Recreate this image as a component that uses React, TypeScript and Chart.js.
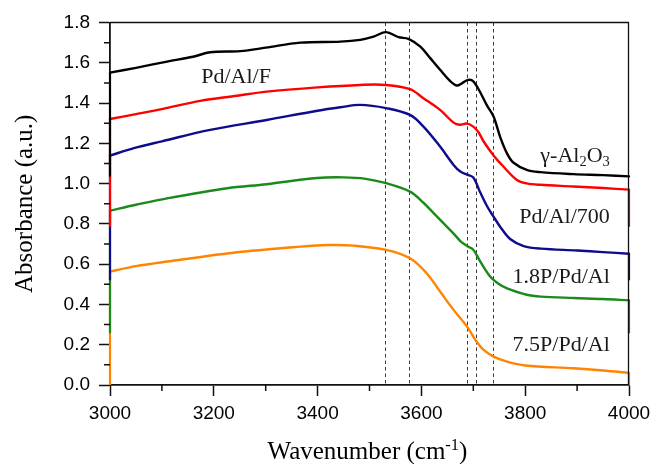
import React, { useEffect, useRef } from 'react';
import { Chart, registerables } from 'chart.js';

Chart.register(...registerables);

// ---- data ----
const blackX = [3000, 3050, 3110, 3160, 3193, 3251, 3300, 3367, 3444, 3482, 3508, 3532, 3556, 3575, 3598, 3617, 3636, 3655, 3668, 3678, 3690, 3700, 3713, 3726, 3739, 3752, 3765, 3777, 3803, 3829, 3893, 3950, 4000];
const blackY = [1.551, 1.575, 1.606, 1.63, 1.652, 1.658, 1.675, 1.7, 1.705, 1.714, 1.73, 1.752, 1.727, 1.719, 1.68, 1.623, 1.565, 1.51, 1.487, 1.498, 1.515, 1.508, 1.455, 1.39, 1.333, 1.23, 1.15, 1.105, 1.068, 1.057, 1.047, 1.042, 1.036];

const redX = [3000, 3050, 3100, 3174, 3240, 3302, 3400, 3482, 3532, 3578, 3604, 3636, 3662, 3674, 3688, 3700, 3710, 3720, 3739, 3758, 3784, 3803, 3829, 3893, 3950, 4000];
const redY = [1.321, 1.345, 1.37, 1.411, 1.435, 1.457, 1.478, 1.49, 1.49, 1.469, 1.424, 1.366, 1.303, 1.292, 1.298, 1.283, 1.255, 1.209, 1.14, 1.085, 1.018, 1.001, 0.994, 0.986, 0.978, 0.97];

const blueX = [3000, 3046, 3100, 3193, 3302, 3400, 3444, 3482, 3532, 3578, 3604, 3636, 3662, 3675, 3688, 3700, 3713, 3726, 3739, 3752, 3771, 3797, 3830, 3900, 3950, 4000];
const blueY = [1.139, 1.176, 1.21, 1.267, 1.316, 1.362, 1.379, 1.391, 1.375, 1.341, 1.283, 1.184, 1.093, 1.06, 1.045, 1.03, 0.958, 0.89, 0.836, 0.785, 0.725, 0.69, 0.677, 0.668, 0.66, 0.652];

const greenX = [3000, 3050, 3110, 3226, 3302, 3399, 3450, 3490, 3532, 3578, 3604, 3623, 3640, 3662, 3675, 3688, 3700, 3713, 3732, 3750, 3765, 3803, 3830, 3893, 3950, 4000];
const greenY = [0.866, 0.895, 0.927, 0.977, 0.997, 1.028, 1.031, 1.025, 1.002, 0.96, 0.905, 0.855, 0.81, 0.752, 0.715, 0.69, 0.672, 0.615, 0.54, 0.5, 0.48, 0.448, 0.439, 0.432, 0.427, 0.42];

const orangeX = [3000, 3050, 3110, 3238, 3367, 3420, 3470, 3532, 3578, 3610, 3636, 3662, 3688, 3704, 3720, 3739, 3765, 3800, 3893, 3950, 4000];
const orangeY = [0.563, 0.59, 0.613, 0.657, 0.687, 0.695, 0.692, 0.671, 0.629, 0.555, 0.464, 0.373, 0.29, 0.224, 0.174, 0.141, 0.116, 0.097, 0.083, 0.072, 0.06];

// baseline each trace drops to at both ends
const baselines = [1.035, 0.786, 0.52, 0.257, 0];
const seriesColors = ['#000000', '#ff0000', '#0c0c8c', '#1a8a1a', '#ff8400'];

const dashedLines = [3530, 3577, 3687, 3705, 3738];

const xMinorTicks = [3100, 3300, 3500, 3700, 3900];
const yMinorTicks = [0.1, 0.3, 0.5, 0.7, 0.9, 1.1, 1.3, 1.5, 1.7];

type Seg = { t: string; s?: 'sub' | 'sup' };

const labelTexts: Seg[][] = [
  [{ t: 'Pd/Al/F' }],
  [{ t: 'γ-Al' }, { t: '2', s: 'sub' }, { t: 'O' }, { t: '3', s: 'sub' }],
  [{ t: 'Pd/Al/700' }],
  [{ t: '1.8P/Pd/Al' }],
  [{ t: '7.5P/Pd/Al' }],
];
const labelX = [3243, 3963, 3963, 3963, 3963];
const labelY = [1.499, 1.109, 0.803, 0.505, 0.17];
const labelAlign = ['center', 'right', 'right', 'right', 'right'];

const xTitle: Seg[] = [{ t: 'Wavenumber (cm' }, { t: '-1', s: 'sup' }, { t: ')' }];
const yTitle: Seg[] = [{ t: 'Absorbance (a.u.)' }];

const SERIF = "'Liberation Serif', 'Times New Roman', serif";
const SANS = "'Liberation Sans', Arial, sans-serif";
const AXIS = '#101010';

function drawRich(ctx: CanvasRenderingContext2D, segs: Seg[], x: number, y: number, size: number, align: string) {
  let w = 0;
  for (const s of segs) {
    ctx.font = `${s.s ? size * 0.66 : size}px ${SERIF}`;
    w += ctx.measureText(s.t).width;
  }
  let cx = align === 'right' ? x - w : align === 'center' ? x - w / 2 : x;
  ctx.textAlign = 'left';
  ctx.textBaseline = 'alphabetic';
  for (const s of segs) {
    const fs = s.s ? size * 0.66 : size;
    ctx.font = `${fs}px ${SERIF}`;
    const dy = s.s === 'sub' ? size * 0.22 : s.s === 'sup' ? -size * 0.36 : 0;
    ctx.fillText(s.t, cx, y + dy);
    cx += ctx.measureText(s.t).width;
  }
}

const decorPlugin = {
  id: 'decor',
  beforeDatasetsDraw(chart: any) {
    const { ctx, chartArea } = chart;
    const xs = chart.scales.x;
    ctx.save();
    ctx.strokeStyle = '#3a3a3a';
    ctx.lineWidth = 1;
    ctx.setLineDash([3.5, 3]);
    for (const v of dashedLines) {
      const px = Math.round(xs.getPixelForValue(v)) + 0.5;
      ctx.beginPath();
      ctx.moveTo(px, chartArea.top);
      ctx.lineTo(px, chartArea.bottom);
      ctx.stroke();
    }
    ctx.restore();
  },
  afterDraw(chart: any) {
    const ctx: CanvasRenderingContext2D = chart.ctx;
    const { left, right, top, bottom } = chart.chartArea;
    const xs = chart.scales.x;
    const ys = chart.scales.y;
    ctx.save();
    ctx.setLineDash([]);
    ctx.strokeStyle = AXIS;
    // top and right frame
    ctx.lineWidth = 1.3;
    ctx.beginPath();
    ctx.moveTo(left, top);
    ctx.lineTo(right - 0.5, top);
    ctx.lineTo(right - 0.5, bottom);
    ctx.stroke();
    // minor ticks
    ctx.lineWidth = 1.5;
    ctx.beginPath();
    yMinorTicks.forEach((v) => {
      const py = ys.getPixelForValue(v);
      ctx.moveTo(left - 6, py);
      ctx.lineTo(left, py);
    });
    xMinorTicks.forEach((v) => {
      const px = xs.getPixelForValue(v);
      ctx.moveTo(px, bottom);
      ctx.lineTo(px, bottom + 6);
    });
    ctx.stroke();
    // labels
    ctx.fillStyle = '#1a1a1a';
    labelTexts.forEach((segs, i) => {
      drawRich(ctx, segs, xs.getPixelForValue(labelX[i]), ys.getPixelForValue(labelY[i]), 22, labelAlign[i]);
    });
    ctx.fillStyle = '#000';
    drawRich(ctx, xTitle, (left + right) / 2 - 2, bottom + 74, 25, 'center');
    ctx.translate(32, (top + bottom) / 2);
    ctx.rotate(-Math.PI / 2);
    drawRich(ctx, yTitle, 0, 0, 25, 'center');
    ctx.restore();
  },
};

export default function App() {
  const ref = useRef<HTMLCanvasElement>(null);
  useEffect(() => {
    const seriesX = [blackX, redX, blueX, greenX, orangeX];
    const seriesY = [blackY, redY, blueY, greenY, orangeY];
    const datasets: any[] = [];
    seriesX.forEach((xs, i) => {
      const yv = seriesY[i];
      datasets.push({
        data: xs.map((x, j) => ({ x, y: yv[j] })),
        borderColor: seriesColors[i],
        borderWidth: 2.4,
        pointRadius: 0,
        tension: 0.35,
        fill: false,
        order: i,
        clip: 8,
        borderJoinStyle: 'round',
        borderCapStyle: 'round',
      });
      const n = xs.length - 1;
      datasets.push({
        data: [
          { x: xs[0], y: baselines[i] },
          { x: xs[0], y: yv[0] },
          { x: xs[n], y: null },
          { x: xs[n], y: yv[n] },
          { x: xs[n], y: baselines[i] },
        ],
        borderColor: seriesColors[i],
        borderWidth: 2.2,
        pointRadius: 0,
        tension: 0,
        fill: false,
        spanGaps: false,
        order: i,
        clip: 8,
      });
    });
    const gridOpts = {
      display: true,
      drawOnChartArea: false,
      drawTicks: true,
      tickLength: 11,
      tickWidth: 1.5,
      tickColor: AXIS,
      color: 'rgba(0,0,0,0)',
    };
    const chart = new Chart(ref.current as HTMLCanvasElement, {
      type: 'line',
      data: { datasets },
      options: {
        responsive: false,
        animation: false,
        layout: { padding: { top: 22.5, right: 25, left: 0, bottom: 0 } },
        plugins: { legend: { display: false }, tooltip: { enabled: false } },
        scales: {
          x: {
            type: 'linear',
            min: 3000,
            max: 4000,
            ticks: {
              stepSize: 200,
              autoSkip: false,
              maxRotation: 0,
              padding: 6,
              color: '#000',
              font: { family: SANS, size: 19 },
              callback: (v: any) => String(v),
            },
            grid: gridOpts,
            border: { display: true, color: AXIS, width: 1.8 },
            afterFit: (s: any) => { s.height = 79; s.paddingLeft = 0; s.paddingRight = 0; },
          },
          y: {
            type: 'linear',
            min: 0,
            max: 1.8,
            ticks: {
              stepSize: 0.2,
              autoSkip: false,
              padding: 9,
              color: '#000',
              font: { family: SANS, size: 19 },
              callback: (v: any) => Number(v).toFixed(1),
            },
            grid: gridOpts,
            border: { display: true, color: AXIS, width: 1.8 },
            afterFit: (s: any) => { s.width = 110; s.paddingTop = 0; s.paddingBottom = 0; },
          },
        },
      },
      plugins: [decorPlugin],
    } as any);
    return () => chart.destroy();
  }, []);
  return (
    <div style={{ position: 'fixed', left: 0, top: 0, width: 654, height: 464, background: '#fff' }}>
      <canvas ref={ref} width={654} height={464} style={{ width: 654, height: 464, display: 'block' }} />
    </div>
  );
}
